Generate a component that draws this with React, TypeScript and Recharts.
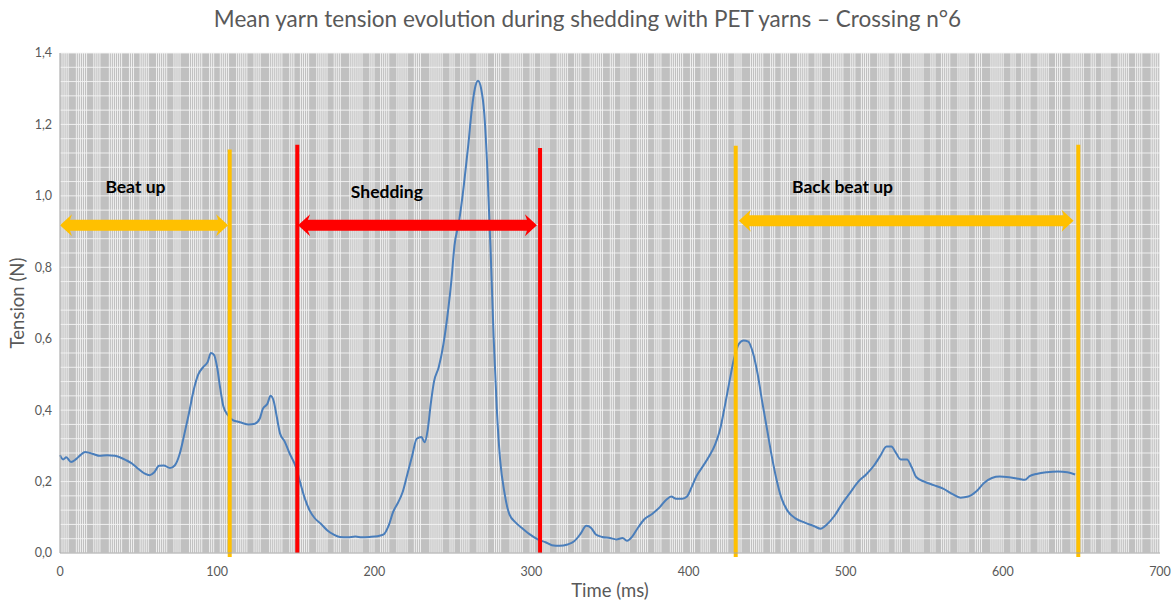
import React from 'react';
import {
  ComposedChart,
  Line,
  XAxis,
  YAxis,
  CartesianGrid,
  ReferenceLine,
  ReferenceDot,
} from 'recharts';

// ---- data ----
const timeMs = [
  0, 2, 4, 7, 10, 13, 16, 19, 22, 25, 30, 35, 38, 42, 46, 50, 54, 57, 60, 63, 66, 70, 73, 76, 79, 82, 85, 88, 91, 94, 96, 98, 100,
  102, 104, 107, 110, 113, 116, 120, 124, 127, 129, 132, 134, 136, 138, 140, 143, 146, 150, 153, 156, 159, 162, 166, 170, 174,
  178, 183, 188, 192, 197, 202, 206, 209, 212, 215, 218, 221, 224, 227, 230, 232, 234, 236, 238, 241, 244, 247, 249, 251, 254,
  257, 260, 262, 264, 266, 268, 270, 272, 274, 276, 278, 280, 283, 286, 290, 294, 299, 304, 309, 313, 318, 323, 327, 331, 335,
  338, 341, 345, 350, 354, 358, 361, 364, 368, 372, 377, 382, 386, 389, 392, 396, 399, 402, 405, 409, 413, 417, 420, 423, 426,
  429, 432, 435, 438, 441, 444, 447, 450, 453, 456, 459, 463, 468, 474, 480, 484, 488, 493, 498, 503, 508, 513, 518, 522, 526,
  529, 532, 535, 539, 542, 545, 550, 556, 562, 568, 573, 578, 583, 588, 593, 598, 604, 610, 614, 617, 622, 628, 635, 641, 646,
];
const tension = [
  0.274, 0.262, 0.268, 0.255, 0.262, 0.274, 0.283, 0.28, 0.276, 0.272, 0.274, 0.272, 0.268, 0.26, 0.25, 0.235, 0.222, 0.218,
  0.226, 0.244, 0.245, 0.238, 0.245, 0.275, 0.33, 0.39, 0.455, 0.5, 0.52, 0.535, 0.56, 0.555, 0.52, 0.46, 0.41, 0.385, 0.372,
  0.368, 0.364, 0.36, 0.362, 0.375, 0.403, 0.418, 0.44, 0.425, 0.38, 0.335, 0.312, 0.28, 0.242, 0.195, 0.15, 0.118, 0.098,
  0.082, 0.064, 0.052, 0.045, 0.044, 0.046, 0.044, 0.045, 0.047, 0.052, 0.075, 0.115, 0.14, 0.17, 0.22, 0.27, 0.32, 0.325,
  0.31, 0.345, 0.42, 0.48, 0.52, 0.585, 0.68, 0.76, 0.86, 0.93, 1.03, 1.15, 1.24, 1.3, 1.322, 1.3, 1.23, 1.07, 0.85, 0.6, 0.4,
  0.265, 0.165, 0.108, 0.085, 0.07, 0.052, 0.038, 0.03, 0.022, 0.02, 0.024, 0.032, 0.052, 0.076, 0.07, 0.052, 0.045, 0.042,
  0.038, 0.042, 0.034, 0.045, 0.072, 0.095, 0.11, 0.13, 0.15, 0.158, 0.152, 0.152, 0.158, 0.185, 0.215, 0.242, 0.27, 0.305,
  0.345, 0.41, 0.48, 0.545, 0.585, 0.595, 0.592, 0.56, 0.5, 0.42, 0.345, 0.27, 0.205, 0.155, 0.118, 0.097, 0.085, 0.075, 0.068,
  0.08, 0.105, 0.14, 0.17, 0.2, 0.22, 0.245, 0.272, 0.298, 0.298, 0.28, 0.262, 0.262, 0.24, 0.212, 0.2, 0.19, 0.18, 0.165,
  0.155, 0.158, 0.172, 0.196, 0.21, 0.214, 0.212, 0.208, 0.205, 0.215, 0.222, 0.226, 0.228, 0.226, 0.22,
];
const xTicks = [0, 100, 200, 300, 400, 500, 600, 700];
const yTicks = [0, 0.2, 0.4, 0.6, 0.8, 1.0, 1.2, 1.4];

// phase markers (ms) and their top tension
const orangeMarkers = [
  { t: 108, top: 1.13 },
  { t: 430, top: 1.14 },
  { t: 648, top: 1.143 },
];
const redMarkers = [
  { t: 151, top: 1.143 },
  { t: 305.5, top: 1.134 },
];
const phaseArrows = [
  { from: 0, to: 107, y: 0.918, color: '#FFC000' },
  { from: 151.5, to: 303.5, y: 0.918, color: '#FF0000' },
  { from: 432, to: 645, y: 0.93, color: '#FFC000' },
];
const phaseLabels = [
  { text: 'Beat up', t: 48, y: 1.025 },
  { text: 'Shedding', t: 208, y: 1.011 },
  { text: 'Back beat up', t: 498, y: 1.025 },
];

const chartData = timeMs.map((t, i) => ({ t, v: tension[i] }));

const X_DOMAIN: [number, number] = [0, 700];
const Y_DOMAIN: [number, number] = [0, 1.4];

// background texture: dense vertical gridlines (style only)
const gapPattern = [1.3, 1.3, 1.3, 1.3, 5.2, 1.3, 1.3, 1.3, 1.3, 1.3, 4.6, 1.3, 1.3, 1.3, 6.0, 1.3, 1.3, 1.3, 1.3, 1.3, 1.3, 5.0, 1.3, 1.3, 4.2];
const gridTimes: number[] = [];
{
  let t = 0;
  let i = 0;
  while (t <= 700) {
    gridTimes.push(Math.round(t * 100) / 100);
    t += gapPattern[i % gapPattern.length];
    i++;
  }
}
const hGridValues: number[] = [];
for (let k = 0; k <= 35; k++) hGridValues.push(Math.round(k * 0.04 * 1000) / 1000);

const FONT = 'Lato, "Open Sans", sans-serif';

const vGen = (props: any) => {
  const { xAxis, offset } = props;
  if (xAxis && typeof xAxis.scale === 'function') {
    return gridTimes.map((t) => xAxis.scale(t));
  }
  return gridTimes.map((t) => offset.left + ((t - X_DOMAIN[0]) / (X_DOMAIN[1] - X_DOMAIN[0])) * offset.width);
};
const hGen = (props: any) => {
  const { yAxis, offset } = props;
  if (yAxis && typeof yAxis.scale === 'function') {
    return hGridValues.map((v) => yAxis.scale(v));
  }
  return hGridValues.map((v) => offset.top + offset.height - ((v - Y_DOMAIN[0]) / (Y_DOMAIN[1] - Y_DOMAIN[0])) * offset.height);
};

const arrowShape = (color: string) => (props: any) => {
  const { x1, x2, y1 } = props;
  const y = y1;
  const st = 5.5;
  const hh = 11;
  const hl = 12;
  const pts = [
    [x1, y],
    [x1 + hl, y - hh],
    [x1 + hl - 2, y - st],
    [x2 - hl + 2, y - st],
    [x2 - hl, y - hh],
    [x2, y],
    [x2 - hl, y + hh],
    [x2 - hl + 2, y + st],
    [x1 + hl - 2, y + st],
    [x1 + hl, y + hh],
  ]
    .map((p) => p.join(','))
    .join(' ');
  return <polygon points={pts} fill={color} />;
};

export default function App() {
  return (
    <div style={{ position: 'absolute', left: 0, top: 0, width: 1175, height: 602, background: '#fff' }}>
      <div
        style={{
          position: 'absolute',
          left: 0,
          top: 5,
          width: 1175,
          textAlign: 'center',
          fontFamily: FONT,
          fontSize: 22.5,
          color: '#595959',
        }}
      >
        Mean yarn tension evolution during shedding with PET yarns – Crossing n°6
      </div>
      <ComposedChart width={1175} height={602} data={chartData} margin={{ top: 53, right: 15, bottom: 19, left: 20 }}>
        <CartesianGrid
          verticalCoordinatesGenerator={vGen}
          horizontalCoordinatesGenerator={hGen}
          stroke="#f4f4f4"
          strokeOpacity={0.9}
          fill="#c0c0c0"
          fillOpacity={1}
        />
        <XAxis
          type="number"
          dataKey="t"
          domain={X_DOMAIN}
          ticks={xTicks}
          tickLine={false}
          axisLine={{ stroke: '#a6a6a6' }}
          tick={{ fill: '#595959', fontSize: 12.5, fontFamily: FONT }}
          tickMargin={8}
          height={30}
          label={{ value: 'Time (ms)', position: 'insideBottom', offset: -14, fill: '#595959', fontSize: 18.5, fontFamily: FONT }}
        />
        <YAxis
          type="number"
          domain={Y_DOMAIN}
          ticks={yTicks}
          tickLine={false}
          axisLine={{ stroke: '#a6a6a6' }}
          tickFormatter={(v: number) => v.toFixed(1).replace('.', ',')}
          tick={{ fill: '#595959', fontSize: 12.5, fontFamily: FONT }}
          width={40}
          label={{ value: 'Tension (N)', angle: -90, position: 'insideLeft', offset: -3, fill: '#595959', fontSize: 18.5, fontFamily: FONT, style: { textAnchor: 'middle' } }}
        />
        <Line type="monotone" dataKey="v" stroke="#4a7ebb" strokeWidth={2} dot={false} isAnimationActive={false} />
        {orangeMarkers.map((m, i) => (
          <ReferenceLine
            key={'o' + i}
            segment={[{ x: m.t, y: -0.011 }, { x: m.t, y: m.top }]}
            stroke="#FFC000"
            strokeWidth={4}
            ifOverflow="visible"
          />
        ))}
        {redMarkers.map((m, i) => (
          <ReferenceLine
            key={'r' + i}
            segment={[{ x: m.t, y: 0 }, { x: m.t, y: m.top }]}
            stroke="#FF0000"
            strokeWidth={4}
            ifOverflow="visible"
          />
        ))}
        {phaseArrows.map((a, i) => (
          <ReferenceLine
            key={'a' + i}
            segment={[{ x: a.from, y: a.y }, { x: a.to, y: a.y }]}
            stroke={a.color}
            ifOverflow="visible"
            shape={arrowShape(a.color)}
          />
        ))}
        {phaseLabels.map((l, i) => (
          <ReferenceDot
            key={'l' + i}
            x={l.t}
            y={l.y}
            r={0}
            fill="none"
            stroke="none"
            ifOverflow="visible"
            label={{ value: l.text, position: 'center', fill: '#000000', fontSize: 17.5, fontWeight: 700, fontFamily: FONT }}
          />
        ))}
      </ComposedChart>
    </div>
  );
}
